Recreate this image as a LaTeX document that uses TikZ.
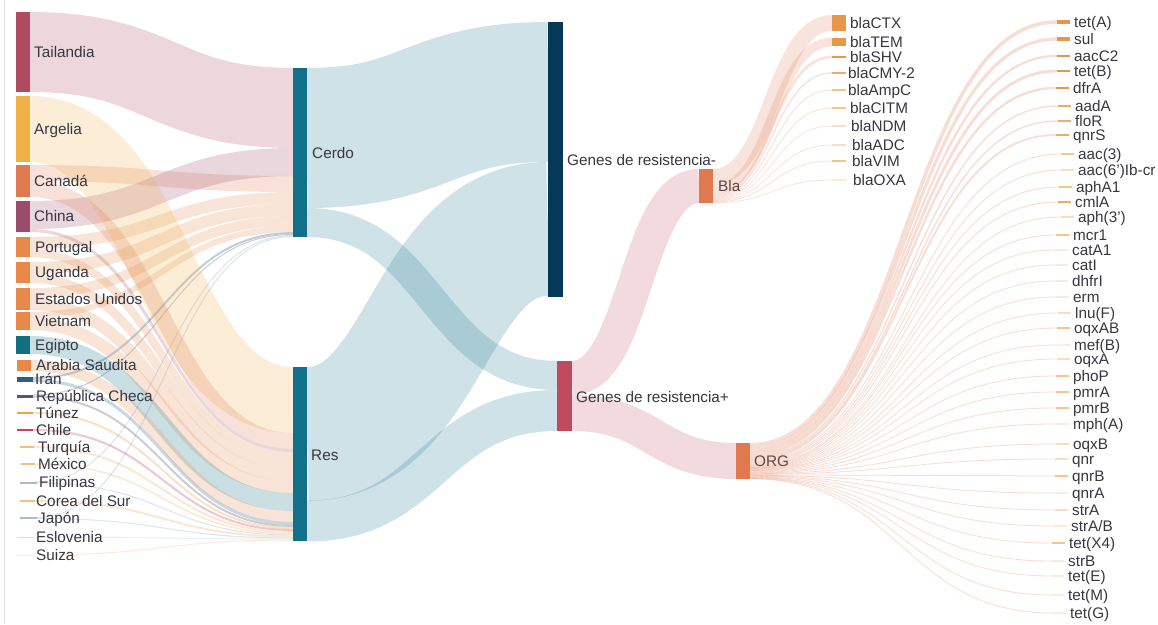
\documentclass[tikz,border=0pt]{standalone}
\usepackage{fontspec}
\setmainfont{Liberation Sans}
\definecolor{tai}{RGB}{176,74,96}
\definecolor{arg}{RGB}{239,176,70}
\definecolor{can}{RGB}{224,122,80}
\definecolor{chi}{RGB}{155,76,104}
\definecolor{ora}{RGB}{232,137,74}
\definecolor{egi}{RGB}{16,112,128}
\definecolor{ira}{RGB}{47,92,140}
\definecolor{rch}{RGB}{90,85,112}
\definecolor{tun}{RGB}{239,160,64}
\definecolor{chl}{RGB}{208,64,96}
\definecolor{lor}{RGB}{243,192,128}
\definecolor{lbl}{RGB}{168,188,208}
\definecolor{vlb}{RGB}{212,224,236}
\definecolor{sui}{RGB}{250,238,222}
\definecolor{cer}{RGB}{17,112,138}
\definecolor{gmin}{RGB}{5,57,88}
\definecolor{gplus}{RGB}{192,74,94}
\definecolor{blac}{RGB}{224,120,80}
\definecolor{od}{RGB}{232,150,74}
\definecolor{om}{RGB}{238,172,100}
\definecolor{ol}{RGB}{244,198,140}
\definecolor{ov}{RGB}{248,222,190}
\definecolor{on}{RGB}{251,236,218}
\definecolor{txt}{RGB}{55,55,65}
\newcommand{\snk}[7]{%
  \pgfmathsetmacro{\snkxm}{(#1+#3)/2}%
  \pgfmathsetmacro{\snklw}{max(#5,0.8)}%
  \draw[line width=\snklw pt, draw=#6, draw opacity=#7] (#1,#2) .. controls (\snkxm,#2) and (\snkxm,#4) .. (#3,#4);}
\tikzset{
  bar/.style={rectangle, inner sep=0pt, outer sep=0pt, draw=none},
  lab/.style={text=txt, font=\fontsize{15.3}{16}\selectfont, inner sep=0pt, anchor=west, text height=10.5pt, text depth=0pt}
}
\begin{document}
\begin{tikzpicture}[x=1pt,y=-1pt]
\fill[white] (0,0) rectangle (1158,624);
\useasboundingbox (0,0) rectangle (1158,624);
\draw[black!10, line width=0.8pt] (4,0) -- (4,624);

% ---- country -> Cerdo links
\snk{30}{52}{293}{108}{80}{tai}{0.22}
\snk{30}{173}{293}{184}{16}{can}{0.22}
\snk{30}{215}{293}{162}{28}{chi}{0.22}
\snk{30}{243}{293}{198}{12}{ora}{0.22}
\snk{30}{268}{293}{210}{12}{ora}{0.22}
\snk{30}{293}{293}{221}{10}{ora}{0.22}
\snk{30}{315}{293}{229}{6}{ora}{0.22}
\snk{33}{378}{293}{233}{2}{ira}{0.3}
\snk{33}{395}{293}{234.5}{1}{rch}{0.3}
\snk{35}{482}{293}{235.5}{1}{lbl}{0.4}
\snk{35}{517.5}{293}{236.5}{1}{lbl}{0.4}
% ---- country -> Res links
\snk{30}{129}{293}{400}{66}{arg}{0.22}
\snk{30}{189}{293}{441}{16}{can}{0.22}
\snk{30}{230.5}{293}{450.5}{3}{chi}{0.22}
\snk{30}{253}{293}{456}{8}{ora}{0.22}
\snk{30}{278.5}{293}{464.5}{9}{ora}{0.22}
\snk{30}{304}{293}{475}{12}{ora}{0.22}
\snk{30}{324}{293}{487}{12}{ora}{0.22}
\snk{30}{345}{293}{502}{18}{egi}{0.22}
\snk{31}{365.5}{293}{516.5}{11}{ora}{0.22}
\snk{33}{380.5}{293}{523.5}{3}{ira}{0.25}
\snk{33}{396.5}{293}{526}{2}{rch}{0.3}
\snk{33}{413}{293}{528}{2}{tun}{0.3}
\snk{33}{430}{293}{530}{2}{chl}{0.3}
\snk{33}{447}{293}{532}{2}{lor}{0.35}
\snk{35}{464}{293}{533.75}{1.5}{lor}{0.35}
\snk{37}{483}{293}{535}{1}{lbl}{0.4}
\snk{35}{501}{293}{536.5}{2}{lor}{0.35}
\snk{37}{518.5}{293}{538}{1}{lbl}{0.4}
\snk{33}{537}{293}{539}{1}{vlb}{0.5}
\snk{33}{555}{293}{540}{1}{lor}{0.3}

% ---- Cerdo/Res -> Genes
\snk{307}{138}{548}{92}{140}{cer}{0.2}
\snk{307}{222.5}{557}{375.5}{29}{cer}{0.2}
\snk{307}{434}{548}{229}{134}{cer}{0.2}
\snk{307}{521}{557}{410.5}{41}{cer}{0.2}
% ---- Genes+ -> Bla / ORG
\snk{572}{378}{699}{186}{34}{gplus}{0.2}
\snk{572}{413}{736}{461}{36}{gplus}{0.2}

% ---- country bars and labels
\foreach \nm/\ya/\yb/\gcl/\lx/\xa/\xb [count=\i] in {
  Tailandia/12/92/tai/34/16/30, Argelia/96/162/arg/34/16/30, Canadá/165/197/can/34/16/30,
  China/201/232/chi/34/16/30, Portugal/237/257/ora/35/16/30, Uganda/262/283/ora/35/16/30,
  Estados Unidos/288/310/ora/35/16/30, Vietnam/312/330/ora/35/16/30, Egipto/336/354/egi/35/16/30,
  Arabia Saudita/360/371/ora/36/17/31, Irán/377/382/ira/35/17/33, República Checa/394.5/397.5/rch/36/17/33,
  Túnez/412/414/tun/36/17/33, Chile/429/431/chl/36/17/33, Turquía/446/448/lor/38/20/34,
  México/463.25/464.75/lor/38/21/35, Filipinas/481.5/483.5/lbl/39/20/37, Corea del Sur/500/502/lor/36/20/35,
  Japón/517/519/lbl/38/20/37, Eslovenia/536.5/537.5/vlb/36/17/33, Suiza/554.5/555.5/sui/36/17/33}{
  \pgfmathsetmacro{\gh}{\yb-\ya}
  \pgfmathsetmacro{\gw}{\xb-\xa}
  \node[bar, fill=\gcl, minimum width=\gw pt, minimum height=\gh pt, anchor=north west] (ctry\i) at (\xa,\ya) {};
  \node[lab] (lctry\i) at (\lx,{(\ya+\yb)/2}) {\nm};
}

% ---- middle bars
\node[bar, fill=cer, minimum width=14pt, minimum height=169pt, anchor=north west] (cerdo) at (293,68) {};
\node[bar, fill=cer, minimum width=14pt, minimum height=174pt, anchor=north west] (res) at (293,367) {};
\node[bar, fill=gmin, minimum width=15pt, minimum height=275pt, anchor=north west] (gmn) at (548,22) {};
\node[bar, fill=gplus, minimum width=15pt, minimum height=70pt, anchor=north west] (gpl) at (557,361) {};
\node[bar, fill=blac, minimum width=14pt, minimum height=34pt, anchor=north west] (bla) at (699,169) {};
\node[bar, fill=blac, minimum width=14pt, minimum height=36pt, anchor=north west] (org) at (736,443) {};
\node[lab] (lcerdo) at (312,153) {Cerdo};
\node[lab] (lres) at (311,455) {Res};
\node[lab] (lgmn) at (567,160) {Genes de resistencia-};
\node[lab] (lgpl) at (576,397) {Genes de resistencia+};
\node[lab] (lbla) at (718,186) {Bla};
\node[lab] (lorg) at (754,461) {ORG};

% ---- Bla genes
\gdef\cumb{169}
\foreach \nm/\ly/\lx/\v/\gcl [count=\i] in {
  blaCTX/23/850/16/od, blaTEM/42/850/9/od, blaSHV/57/850/3/od, blaCMY-2/73/848/1.5/om,
  blaAmpC/90/848/1/ol, blaCITM/108/850/1/ol, blaNDM/126/851/0.8/ov, blaADC/145/852/0.5/ov,
  blaVIM/161/852/1/ol, blaOXA/180/853/0.5/on}{
  \pgfmathsetmacro{\gw}{\v*34/34.3}
  \pgfmathsetmacro{\gyc}{\cumb+\gw/2}
  \snk{713}{\gyc}{832}{\ly}{\gw}{blac}{0.2}
  \pgfmathsetmacro{\gbh}{max(\gw,1.5)}
  \node[bar, fill=\gcl, minimum width=14pt, minimum height=\gbh pt, anchor=west] (bg\i) at (832,\ly) {};
  \node[lab] (lbg\i) at (\lx,\ly) {\nm};
  \pgfmathsetmacro{\gnc}{\cumb+\gw}
  \xdef\cumb{\gnc}
}

% ---- ORG genes
\gdef\cumo{443}
\foreach \nm/\ly/\lx/\v/\gcl [count=\i] in {
  tet(A)/22/1074/4.0/od, sul/39/1074/3.5/od, aacC2/56/1074/2.5/od, tet(B)/71/1074/3.2/od,
  dfrA/88/1073/2.6/od, aadA/106/1075/1.5/om, floR/121/1075/1.5/om, qnrS/135/1073/2/om,
  aac(3)/154/1078/1/ol, aac(6')Ib-cr/170/1078/1/ov, aphA1/187/1076/1/ol, cmlA/202/1075/1/om,
  aph(3')/217/1078/0.8/ov, mcr1/235/1073/1/ol, catA1/250/1072/0.6/on, catI/265/1072/0.5/on,
  dhfrI/281/1072/0.5/on, erm/297/1073/0.5/on, lnu(F)/313/1075/0.5/ov, oqxAB/328/1074/0.8/ol,
  mef(B)/345/1074/0.5/on, oqxA/359/1074/0.5/ov, phoP/376/1073/0.8/ol, pmrA/392/1073/0.8/ol,
  pmrB/408/1073/0.8/ol, mph(A)/424/1073/0.5/on, oqxB/444/1073/0.6/ov, qnr/459/1072/0.5/ov,
  qnrB/476/1072/0.8/ol, qnrA/493/1072/0.5/on, strA/510/1072/0.5/ov, {strA/B}/526/1071/0.5/on,
  tet(X4)/543/1069/0.8/ol, strB/561/1068/0.5/on, tet(E)/576/1068/0.5/on, tet(M)/595/1068/0.5/on,
  tet(G)/613/1070/0.5/on}{
  \pgfmathsetmacro{\gw}{\v*36/40.1}
  \pgfmathsetmacro{\gyc}{\cumo+\gw/2}
  \pgfmathsetmacro{\gxb}{\lx-17}
  \snk{750}{\gyc}{\gxb}{\ly}{\gw}{blac}{0.25}
  \pgfmathsetmacro{\gbh}{max(\gw,1.5)}
  \node[bar, fill=\gcl, minimum width=13pt, minimum height=\gbh pt, anchor=west] (og\i) at (\gxb,\ly) {};
  \node[lab] (log\i) at (\lx,\ly) {\nm};
  \pgfmathsetmacro{\gnc}{\cumo+\gw}
  \xdef\cumo{\gnc}
}
\end{tikzpicture}
\end{document}
